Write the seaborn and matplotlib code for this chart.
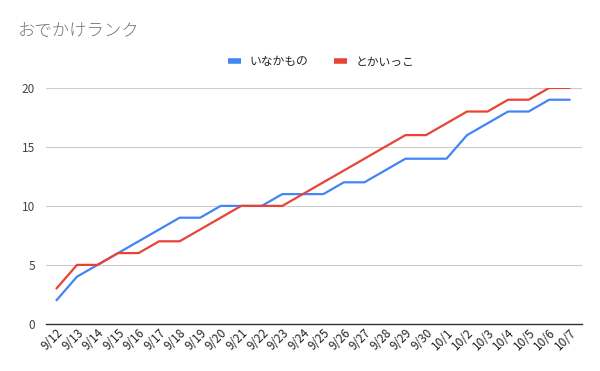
import pandas as pd
import seaborn as sns
import matplotlib.pyplot as plt
from matplotlib.lines import Line2D

dates = ['9/12', '9/13', '9/14', '9/15', '9/16', '9/17', '9/18', '9/19', '9/20',
         '9/21', '9/22', '9/23', '9/24', '9/25', '9/26', '9/27', '9/28', '9/29',
         '9/30', '10/1', '10/2', '10/3', '10/4', '10/5', '10/6', '10/7']
inaka = [2, 4, 5, 6, 7, 8, 9, 9, 10, 10, 10, 11, 11, 11, 12, 12, 13, 14, 14, 14,
         16, 17, 18, 18, 19, 19]
tokai = [3, 5, 5, 6, 6, 7, 7, 8, 9, 10, 10, 10, 11, 12, 13, 14, 15, 16, 16, 17,
         18, 18, 19, 19, 20, 20]
series_names = ['いなかもの', 'とかいっこ']
colors = ['#4285F4', '#EA4335']

df = pd.DataFrame({'date': dates * 2,
                   'pos': list(range(len(dates))) * 2,
                   'value': inaka + tokai,
                   'series': [series_names[0]] * len(dates) + [series_names[1]] * len(dates)})

sns.set_style('white')
plt.rcParams['font.family'] = ['Noto Sans CJK JP', 'DejaVu Sans']

fig = plt.figure(figsize=(6, 3.71), dpi=100)
ax = fig.add_axes([0.077, 0.127, 0.893, 0.636])
sns.lineplot(x='pos', y='value', hue='series', data=df, palette=colors,
             linewidth=1.6, ax=ax, legend=False)

ax.set_xlim(-0.5, len(dates) - 0.4)
ax.set_ylim(0, 20)
ax.set_yticks([0, 5, 10, 15, 20])
ax.set_xticks(range(len(dates)))
ax.set_xticklabels(dates, rotation=45, ha='right', rotation_mode='anchor', fontsize=8.5, color='#222222')
ax.tick_params(axis='y', labelsize=8.5, labelcolor='#444444', length=0, pad=8)
ax.tick_params(axis='x', length=0, pad=2)
ax.set_xlabel('')
ax.set_ylabel('')
ax.grid(axis='y', color='#cccccc', linewidth=0.8)
for s in ['top', 'right', 'left']:
    ax.spines[s].set_visible(False)
ax.spines['bottom'].set_color('#333333')
ax.spines['bottom'].set_linewidth(1)
ax.spines['bottom'].set_zorder(3)

fig.text(0.03, 0.915, 'おでかけランク', fontsize=12.5, color='#757575', va='center', fontweight='light')

handles = [Line2D([], [], color=c, linewidth=4, solid_capstyle='butt') for c in colors]
fig.legend(handles, series_names, loc='center', bbox_to_anchor=(0.535, 0.833), ncol=2,
           frameon=False, fontsize=8.5, handlelength=1.1, columnspacing=2.2, handletextpad=0.7)

plt.savefig('out.png', dpi=100)
plt.close()
